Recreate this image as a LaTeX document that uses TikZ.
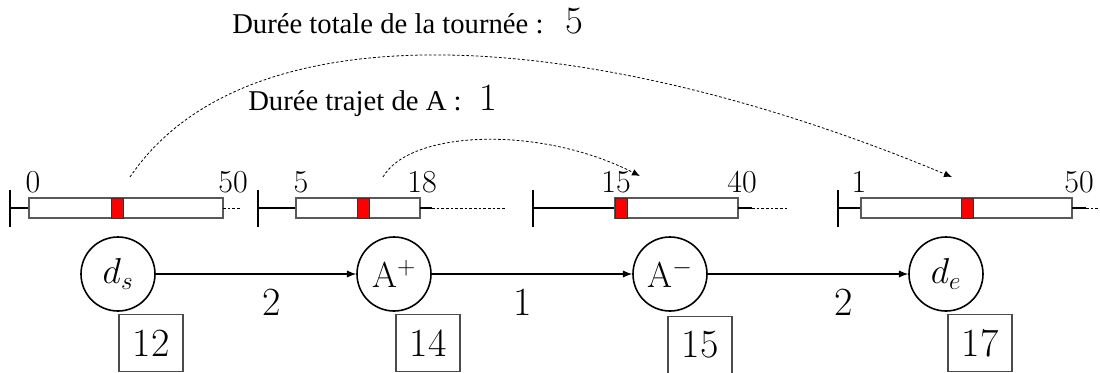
\RequirePackage{fix-cm}
\documentclass[tikz,border=0pt]{standalone}
\usepackage{fontspec}
\newfontfamily\timesfont{Liberation Serif}
\usetikzlibrary{arrows.meta,positioning}

\begin{document}
\begin{tikzpicture}[x=0.75pt, y=-0.75pt,
    state/.style={circle, draw, line width=1.2pt, minimum size=55.5pt, inner sep=0pt, font=\fontsize{27}{30}\selectfont},
    timebox/.style={rectangle, draw=black!70, line width=0.8pt, minimum width=48pt, minimum height=42.75pt, inner sep=0pt, font=\fontsize{30}{34}\selectfont},
    window/.style={draw=black!65, line width=0.9pt, fill=white},
    marker/.style={rectangle, draw=black!80, fill=red, line width=0.6pt, minimum width=9pt, minimum height=15pt, inner sep=0pt},
    bound/.style={anchor=base, inner sep=0pt, font=\fontsize{24}{27}\selectfont},
    axis/.style={line width=0.9pt},
    tail/.style={line width=0.7pt, dash pattern=on 2pt off 1.5pt},
    arrow/.style={-{Latex[length=7pt, width=5.5pt]}, line width=0.9pt},
    link/.style={-{Latex[length=6pt, width=5pt]}, line width=0.6pt, dash pattern=on 2pt off 1.5pt},
    title/.style={anchor=base west, inner sep=0pt, font=\timesfont\fontsize{21.5}{25}\selectfont},
    value/.style={anchor=base west, inner sep=0pt, font=\fontsize{29}{32}\selectfont},
    weight/.style={inner sep=0pt, font=\fontsize{30}{34}\selectfont}
]
\useasboundingbox (0,0) rectangle (1100,372);

% Time windows
\draw[axis] (10,190) -- (10,227) (10,208) -- (29,208);
\draw[window] (29,198) rectangle (223,218);
\draw[tail] (223,208) -- (240,208);
\node[marker] (m1) at (117,208) {};
\node[bound] (lo1) at (33,192) {0};
\node[bound] (hi1) at (233,192) {50};

\draw[axis] (258,190) -- (258,227) (258,208) -- (296,208);
\draw[window] (296,198) rectangle (420,218);
\draw[axis] (420,208) -- (432,208);
\draw[tail] (432,208) -- (505,208);
\node[marker] (m2) at (363,208) {};
\node[bound] (lo2) at (301,192) {5};
\node[bound] (hi2) at (422,192) {18};

\draw[axis] (533,190) -- (533,227) (533,208) -- (615,208);
\draw[window] (615,198) rectangle (738,218);
\draw[axis] (738,208) -- (752,208);
\draw[tail] (752,208) -- (789,208);
\node[marker] (m3) at (621,208) {};
\node[bound] (lo3) at (616,192) {15};
\node[bound] (hi3) at (742,192) {40};

\draw[axis] (838,190) -- (838,227) (838,208) -- (861,208);
\draw[window] (861,198) rectangle (1072,218);
\draw[axis] (1072,208) -- (1086,208);
\draw[tail] (1086,208) -- (1100,208);
\node[marker] (m4) at (967,208) {};
\node[bound] (lo4) at (859,192) {1};
\node[bound] (hi4) at (1079,192) {50};

% Nodes
\node[state] (ds) at (118,274) {$d_s$};
\node[state] (ap) at (394,274) {$\mathrm{A}^{+}$};
\node[state] (am) at (670,274) {$\mathrm{A}^{-}$};
\node[state] (de) at (946,274) {$d_e$};

\node[timebox] (tds) at (151,343) {12};
\node[timebox] (tap) at (428,343) {14};
\node[timebox] (tam) at (700,345) {15};
\node[timebox] (tde) at (980,343) {17};

% Durations
\node[title] (ttot) at (232,33) {Durée totale de la tournée :};
\node[value] (vtot) at (565,33) {5};
\node[title] (ttra) at (248,110) {Durée trajet de A :};
\node[value] (vtra) at (479,110) {1};

% Arrows
\draw[arrow] (ds) -- node[weight, pos=0.58, below=11pt] {2} (ap);
\draw[arrow] (ap) -- node[weight, pos=0.455, below=11pt] {1} (am);
\draw[arrow] (am) -- node[weight, pos=0.68, below=11pt] {2} (de);

\coordinate (s1) at (130,177);
\coordinate (e4) at (952,177);
\coordinate (s2) at (383,177);
\coordinate (e3) at (640,176);
\draw[link] (s1) .. controls (250,0) and (600,30) .. (e4);
\draw[link] (s2) .. controls (410,130) and (540,125) .. (e3);

\end{tikzpicture}
\end{document}
